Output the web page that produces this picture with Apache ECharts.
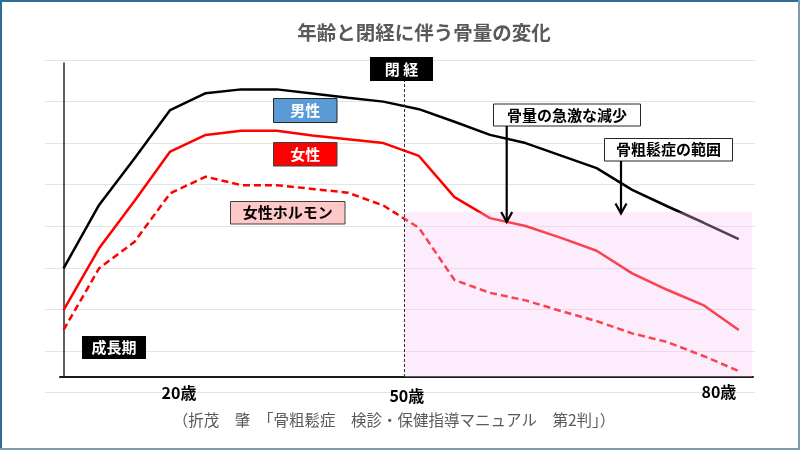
<!DOCTYPE html>
<html><head><meta charset="utf-8">
<script src="https://cdn.jsdelivr.net/npm/echarts@6/dist/echarts.min.js"></script>
<style>html,body{margin:0;padding:0;background:#fff}#c{width:800px;height:450px}</style>
</head><body><div id="c"></div>
<script>
// x = life stage index (schematic), y = relative bone mass
const stages = [0,1,2,3,4,5,6,7,8,9,10,11,12,13,14,15,16,17,18,19];
const male = [34.6,54.8,69.7,85.0,90.4,91.6,91.6,90.3,88.9,87.7,85.3,81.3,77.1,74.5,70.5,66.5,59.6,54.3,49.2,43.9];
const female = [21.3,41.0,56.1,71.8,77.1,78.4,78.4,76.9,75.7,74.5,70.4,57.3,50.6,48.1,44.3,40.2,33.0,27.7,22.9,15.0];
const femaleHormone = [15.0,34.6,43.1,58.5,63.8,61.1,61.1,59.9,58.7,54.6,47.5,30.9,26.8,24.4,21.0,17.8,13.9,11.1,6.7,1.9];
const tickLabels = ['20歳','50歳','80歳'];
const tickPositions = [3.25, 9.66, 18.44];
const menopauseAt = 9.58;
const osteoporosisTop = 52.5;
const osteoporosisEnd = 19.37;

const FONT = '"Noto Sans CJK JP", "Noto Sans", sans-serif';
const chart = echarts.init(document.getElementById('c'), null, {renderer:'canvas'});

function box(x, y, w, h, fill, stroke, text, color, fs) {
  return [
    {type:'rect', z:100, shape:{x:x, y:y, width:w, height:h},
     style:{fill:fill, stroke:stroke, lineWidth:stroke ? 1 : 0}},
    {type:'text', z:101, x:x + w/2, y:y + h/2,
     style:{text:text, fill:color, font:'bold ' + fs + 'px ' + FONT, textAlign:'center', textVerticalAlign:'middle'}}
  ];
}
function arrow(x, y1, y2) {
  return [
    {type:'line', z:100, shape:{x1:x, y1:y1, x2:x, y2:y2 - 1}, style:{stroke:'#000', lineWidth:2.2}},
    {type:'polyline', z:100, shape:{points:[[x-5.5, y2-10], [x, y2], [x+5.5, y2-10]]}, style:{stroke:'#000', lineWidth:2.2, fill:null}}
  ];
}

const graphics = [].concat(
  [{type:'text', z:100, x:424, y:33, style:{text:'年齢と閉経に伴う骨量の変化', fill:'#595959', font:'bold 19.5px ' + FONT, textAlign:'center', textVerticalAlign:'middle'}},
   {type:'text', z:100, x:394, y:420, style:{text:'（折茂　肇　「骨粗鬆症　検診・保健指導マニュアル　第2判」）', fill:'#595959', font:'15.5px ' + FONT, textAlign:'center', textVerticalAlign:'middle'}}],
  box(370, 57, 63, 24, '#000', null, '閉 経', '#fff', 15),
  box(273.5, 98.5, 63.5, 24, '#5b9bd5', '#262626', '男性', '#fff', 15),
  box(273.5, 142.5, 63.5, 23.5, '#ff0000', '#404040', '女性', '#fff', 15),
  box(230.5, 201.5, 114.5, 22.5, '#ffc8c8', '#404040', '女性ホルモン', '#000', 15),
  box(82, 336, 64, 23, '#000', null, '成長期', '#fff', 15),
  box(493.5, 104, 147, 22, '#fff', '#262626', '骨量の急激な減少', '#000', 15),
  box(604.5, 138.5, 128, 22.5, '#fff', '#262626', '骨粗鬆症の範囲', '#000', 15),
  arrow(506.7, 126, 222),
  arrow(621, 161, 213.5),
  [{type:'line', z:200, shape:{x1:1, y1:0, x2:1, y2:450}, style:{stroke:'#2b6f94', lineWidth:2}},
   {type:'line', z:200, shape:{x1:0, y1:1, x2:800, y2:1}, style:{stroke:'#2b6f94', lineWidth:2}},
   {type:'line', z:200, shape:{x1:799, y1:0, x2:799, y2:450}, style:{stroke:'#7c9cad', lineWidth:2}},
   {type:'line', z:200, shape:{x1:0, y1:449, x2:800, y2:449}, style:{stroke:'#7c9cad', lineWidth:2}}]
);

function pairs(arr) { return stages.map((s, i) => [s, arr[i]]); }

chart.setOption({
  animation: false,
  backgroundColor: '#fff',
  grid: [
    {left:45, right:45, top:60, bottom:57.5},
    {left:60, right:47, top:63, bottom:73}
  ],
  xAxis: [
    {gridIndex:0, type:'value', min:0, max:1, show:false},
    {gridIndex:1, type:'value', min:-0.1, max:19.4,
     axisLine:{show:true, onZero:false, lineStyle:{color:'#1a1a1a', width:2}},
     axisTick:{show:false}, splitLine:{show:false},
     axisLabel:{show:true, customValues:tickPositions, margin:6, hideOverlap:false,
       formatter:function(v){
         let best = 0;
         for (let i = 1; i < tickPositions.length; i++) if (Math.abs(tickPositions[i]-v) < Math.abs(tickPositions[best]-v)) best = i;
         return '{t' + best + '|' + tickLabels[best] + '}';
       },
       rich:{
         t0:{fontSize:16, fontWeight:'bold', color:'#000', fontFamily:FONT, lineHeight:20},
         t1:{fontSize:16, fontWeight:'bold', color:'#000', fontFamily:FONT, lineHeight:26},
         t2:{fontSize:16, fontWeight:'bold', color:'#000', fontFamily:FONT, lineHeight:18}
       }}}
  ],
  yAxis: [
    {gridIndex:0, type:'value', min:0, max:8, interval:1,
     axisLine:{show:false}, axisTick:{show:false}, axisLabel:{show:false},
     splitLine:{show:true, lineStyle:{color:'#e4e4e4', width:1}}},
    {gridIndex:1, type:'value', min:0, max:100,
     axisLine:{show:true, lineStyle:{color:'#2a2a2a', width:1.5}},
     axisTick:{show:false}, axisLabel:{show:false}, splitLine:{show:false}}
  ],
  series: [
    {name:'男性', type:'line', xAxisIndex:1, yAxisIndex:1, data:pairs(male), symbol:'none', silent:true,
     lineStyle:{color:'#000', width:2.5}, z:2},
    {name:'女性', type:'line', xAxisIndex:1, yAxisIndex:1, data:pairs(female), symbol:'none', silent:true,
     lineStyle:{color:'#ff0000', width:2.5}, z:2},
    {name:'女性ホルモン', type:'line', xAxisIndex:1, yAxisIndex:1, data:pairs(femaleHormone), symbol:'none', silent:true,
     lineStyle:{color:'#ff0000', width:2.5, type:[7,4]}, z:2},
    {name:'骨粗鬆症の範囲', type:'line', xAxisIndex:1, yAxisIndex:1, data:[], silent:true, z:5,
     markArea:{silent:true, z:10, itemStyle:{color:'rgba(246,196,246,0.33)'},
       data:[[{xAxis:menopauseAt, yAxis:0}, {xAxis:osteoporosisEnd, yAxis:osteoporosisTop}]]},
     markLine:{silent:true, z:11, symbol:['none','none'], label:{show:false},
       lineStyle:{color:'#333', width:1, type:[3,2]},
       data:[{xAxis:menopauseAt}]}}
  ],
  graphic: graphics
});
</script></body></html>
